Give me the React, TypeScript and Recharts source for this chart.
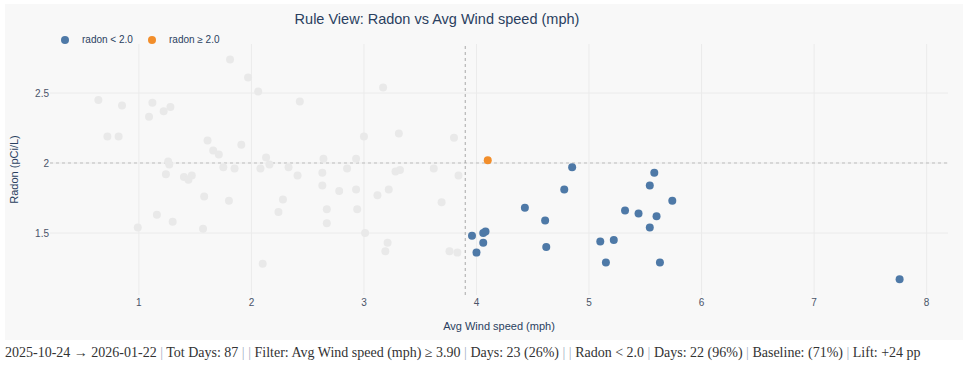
import React from 'react'
import { ScatterChart, Scatter, XAxis, YAxis, ReferenceLine } from 'recharts'

// days outside the rule (wind < 3.90), drawn faded
const otherWind = [
  0.64, 0.85, 1.09, 1.12, 1.22, 1.28, 1.81, 1.97, 2.06, 2.43, 3.17,
  0.72, 0.82, 3.0, 3.31, 3.8, 1.61, 1.66, 1.71, 1.91, 1.26, 1.27, 2.13, 2.64, 2.93,
  1.24, 1.4, 1.47, 1.44, 1.75, 1.85, 2.08, 2.16, 2.33, 2.41, 2.63, 2.85, 3.28, 3.32, 3.62, 3.84,
  1.58, 1.8, 2.63, 2.78, 2.93, 3.12, 3.22, 3.69, 2.28, 2.24, 2.67, 2.94,
  1.16, 1.3, 2.67, 0.99, 1.57, 3.01, 3.21, 3.19, 3.76, 3.83, 2.1,
]
const otherRadon = [
  2.45, 2.41, 2.33, 2.43, 2.37, 2.4, 2.74, 2.61, 2.51, 2.44, 2.54,
  2.19, 2.19, 2.19, 2.21, 2.18, 2.16, 2.09, 2.06, 2.13, 2.01, 1.99, 2.04, 2.03, 2.03,
  1.92, 1.9, 1.91, 1.88, 1.97, 1.96, 1.96, 1.99, 1.97, 1.91, 1.93, 1.96, 1.94, 1.95, 1.96, 1.91,
  1.76, 1.73, 1.84, 1.8, 1.81, 1.77, 1.81, 1.72, 1.74, 1.65, 1.67, 1.67,
  1.63, 1.58, 1.57, 1.54, 1.53, 1.5, 1.43, 1.37, 1.37, 1.36, 1.28,
]

// wind >= 3.90 and radon < 2.0
const belowWind = [
  3.96, 4.0, 4.06, 4.06, 4.08, 4.43, 4.61, 4.62, 4.78, 4.85, 5.1,
  5.15, 5.22, 5.32, 5.44, 5.54, 5.54, 5.58, 5.6, 5.63, 5.74, 7.76,
]
const belowRadon = [
  1.48, 1.36, 1.43, 1.5, 1.51, 1.68, 1.59, 1.4, 1.81, 1.97, 1.44,
  1.29, 1.45, 1.66, 1.64, 1.54, 1.84, 1.93, 1.62, 1.29, 1.73, 1.17,
]

// wind >= 3.90 and radon >= 2.0
const aboveWind = [4.1]
const aboveRadon = [2.02]

const xTicks = [1, 2, 3, 4, 5, 6, 7, 8]
const yTicks = [1.5, 2, 2.5]

const toPoints = (xs: number[], ys: number[]) => xs.map((x, i) => ({ x, y: ys[i] }))

const dot = (fill: string) => (props: any) => <circle cx={props.cx} cy={props.cy} r={4} fill={fill} />

const legendItems = [
  { label: 'radon < 2.0', color: '#4e79a7', width: 87 },
  { label: 'radon \u2265 2.0', color: '#f28e2b', width: 90 },
]

const pipe = <span style={{ color: '#9fb0c4' }}>|</span>

export default function App() {
  const sansFont = '"Liberation Sans", Arial, sans-serif'
  const tickStyle = { fill: '#4a5468', fontSize: 10, fontFamily: sansFont }

  return (
    <div style={{ position: 'absolute', left: 0, top: 0, width: 963, height: 372, background: '#fff' }}>
      <div style={{ position: 'absolute', left: 5, top: 4, width: 958, height: 336, background: '#f8f8f8' }} />
      <div style={{
        position: 'absolute', left: 237, top: 9, width: 400, textAlign: 'center',
        fontFamily: sansFont, fontSize: 14.5, color: '#2a3f5f', lineHeight: '20px',
      }}>
        Rule View: Radon vs Avg Wind speed (mph)
      </div>
      <div style={{ position: 'absolute', left: 0, top: 0 }}>
        <ScatterChart width={963} height={340} margin={{ top: 44, right: 15, bottom: 0, left: 0 }}>
          <XAxis
            type="number"
            dataKey="x"
            domain={[0.21, 8.19]}
            ticks={xTicks}
            allowDataOverflow
            axisLine={false}
            tickLine={false}
            tickSize={0}
            tickMargin={4}
            height={45}
            tick={tickStyle}
            label={{ value: 'Avg Wind speed (mph)', position: 'insideBottom', offset: 10, fill: '#2a3f5f', fontSize: 11, fontFamily: sansFont }}
          />
          <YAxis
            type="number"
            dataKey="y"
            domain={[1.057, 2.85]}
            ticks={yTicks}
            allowDataOverflow
            axisLine={false}
            tickLine={false}
            tickSize={0}
            tickMargin={1}
            width={50}
            tick={tickStyle}
            label={{ value: 'Radon (pCi/L)', angle: -90, position: 'insideLeft', offset: 14, fill: '#2a3f5f', fontSize: 11, fontFamily: sansFont, style: { textAnchor: 'middle' } }}
          />
          {/* grid lines at the tick values */}
          {xTicks.map((t) => (
            <ReferenceLine key={`gx-${t}`} x={t} stroke="#ebebeb" strokeWidth={1} />
          ))}
          {yTicks.map((t) => (
            <ReferenceLine key={`gy-${t}`} y={t} stroke="#ebebeb" strokeWidth={1} />
          ))}
          <ReferenceLine y={2} stroke="#bdbdbd" strokeDasharray="3 3" />
          <ReferenceLine x={3.9} stroke="#a8a8a8" strokeDasharray="3 3" />
          <Scatter name="other" data={toPoints(otherWind, otherRadon)} shape={dot('#e9e9e9')} isAnimationActive={false} legendType="none" />
          <Scatter name="radon < 2.0" data={toPoints(belowWind, belowRadon)} shape={dot('#4e79a7')} isAnimationActive={false} />
          <Scatter name="radon ≥ 2.0" data={toPoints(aboveWind, aboveRadon)} shape={dot('#f28e2b')} isAnimationActive={false} />
        </ScatterChart>
      </div>
      <div style={{ position: 'absolute', left: 61, top: 34, display: 'flex', fontFamily: sansFont, fontSize: 10, color: '#2a3f5f', lineHeight: '12px' }}>
        {legendItems.map((item) => (
          <div key={item.label} style={{ display: 'flex', alignItems: 'center', width: item.width }}>
            <span style={{ width: 8, height: 8, borderRadius: 4, background: item.color, display: 'inline-block', marginRight: 13 }} />
            <span>{item.label}</span>
          </div>
        ))}
      </div>
      <div style={{ position: 'absolute', left: 5, top: 345, fontFamily: 'serif', fontSize: 14, color: '#333', whiteSpace: 'nowrap' }}>
        2025-10-24 → 2026-01-22 {pipe} Tot Days: 87 {pipe} {pipe} Filter: Avg Wind speed (mph) ≥ 3.90 {pipe} Days: 23 (26%) {pipe} {pipe} Radon &lt; 2.0 {pipe} Days: 22 (96%) {pipe} Baseline: (71%) {pipe} Lift: +24 pp
      </div>
    </div>
  )
}
